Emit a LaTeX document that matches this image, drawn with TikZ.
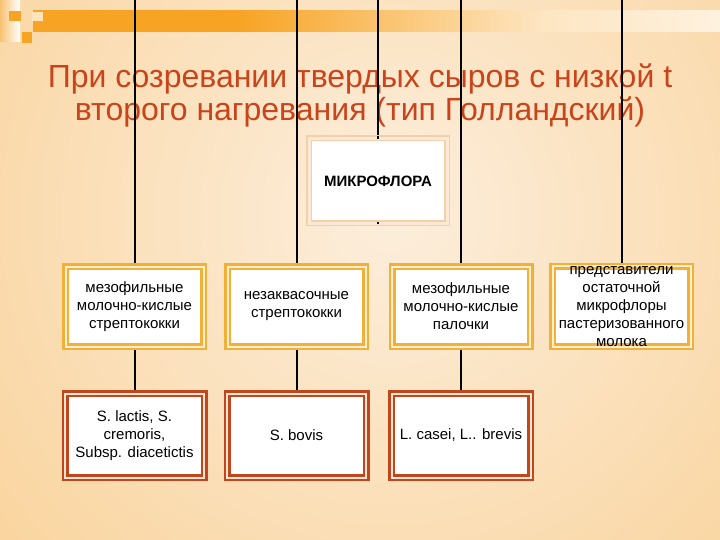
\documentclass[tikz,border=0pt]{standalone}
\usepackage{fontspec}
\setmainfont{Liberation Sans}
\definecolor{bgcream}{HTML}{FCEEDC}
\definecolor{bgorange}{HTML}{F8C272}
\definecolor{barorange}{HTML}{F7A424}
\definecolor{titlered}{HTML}{C9441A}
\definecolor{gold}{HTML}{F2B136}
\definecolor{goldgap}{HTML}{FDEFD2}
\definecolor{rust}{HTML}{C2461C}
\definecolor{rustgap}{HTML}{FBE6D4}
\definecolor{peach}{HTML}{F3CFAA}
\definecolor{peachgap}{HTML}{FBE9D6}
\pgfdeclarehorizontalshading{barshade}{100bp}{color(0bp)=(barorange); color(40bp)=(barorange); color(62bp)=(barorange!28!white); color(82bp)=(barorange!8!white); color(100bp)=(white)}
\pgfdeclarelayer{bg}
\pgfdeclarelayer{lines}
\pgfsetlayers{bg,lines,main}
\begin{document}
\begin{tikzpicture}[x=1pt,y=-1pt,
  boxtext/.style={font=\fontsize{15}{18}\selectfont, align=center, fill=white, inner sep=0pt, text=black},
  goldbox/.style={boxtext, draw=gold, line width=2.5pt, double=goldgap, double distance=2pt, minimum width=138pt, minimum height=80pt},
  rustbox/.style={boxtext, draw=rust, line width=2.5pt, double=rustgap, double distance=2pt, minimum width=139pt, minimum height=84pt},
  topbox/.style={boxtext, font=\fontsize{15}{18}\selectfont\bfseries, draw=peach, line width=1.5pt, double=peachgap, double distance=3pt, minimum width=138pt, minimum height=85pt},
  titletext/.style={text=titlered, font=\fontsize{32}{33}\selectfont, anchor=base, inner sep=0pt},
  conn/.style={line width=2pt, black}]
\useasboundingbox (0,0) rectangle (720,540);
\begin{pgfonlayer}{bg}
  \fill[bgorange] (0,0) rectangle (720,540);
  \begin{scope}
    \clip (0,0) rectangle (720,540);
    \shade[inner color=bgcream, outer color=bgorange] (390,215) circle[radius=880pt];
  \end{scope}
  % top decoration
  \shade[left color=bgorange, right color=white] (0,0) rectangle (20,42);
  \shade[shading=barshade] (33,11) rectangle (720,32);
  \fill[barorange] (9,11) rectangle (21,21);
  \fill[barorange!30!white] (32,12) rectangle (43,21);
  \fill[barorange] (22,32) rectangle (32,43);
  % title
  \node[titletext] (title1) at (360,88) {При созревании твердых сыров с низкой t};
  \node[titletext] (title2) at (360,121) {второго нагревания (тип Голландский)};
\end{pgfonlayer}

% boxes
\node[topbox] (m) at (378,181) {МИКРОФЛОРА};

\node[goldbox] (a1) at (134.5,306.5) {мезофильные\\молочно-кислые\\стрептококки};
\node[goldbox] (a2) at (296.5,306.5) {незаквасочные\\стрептококки};
\node[goldbox] (a3) at (461,306.5) {мезофильные\\молочно-кислые\\палочки};
\node[goldbox] (a4) at (621.5,306.5) {представители\\остаточной\\микрофлоры\\пастеризованного\\молока};

\node[rustbox] (b1) at (134.5,435.5) {S. lactis, S.\\cremoris,\\Subsp. diacetictis};
\node[rustbox] (b2) at (296.5,435.5) {S. bovis};
\node[rustbox] (b3) at (461,435.5) {L. casei, L.. brevis};

% connectors
\coordinate (t1) at (134.5,0);
\coordinate (t2) at (296.5,0);
\coordinate (t3) at (378,0);
\coordinate (t4) at (461,0);
\coordinate (t5) at (621.5,0);
\begin{pgfonlayer}{lines}
  \draw[conn] (t1) -- (a1.north);
  \draw[conn] (t2) -- (a2.north);
  \draw[conn] (t3) -- (m.north);
  \draw[conn] (t4) -- (a3.north);
  \draw[conn] (t5) -- (a4.north);
  \draw[conn] (a1.south) -- (b1.north);
  \draw[conn] (a2.south) -- (b2.north);
  \draw[conn] (a3.south) -- (b3.north);
\end{pgfonlayer}
\draw[line width=1.2pt] ([yshift=-1pt]m.north) -- ([yshift=1.5pt]m.north);
\draw[line width=1.2pt] (m.south) -- ([yshift=2pt]m.south);
\end{tikzpicture}
\end{document}
